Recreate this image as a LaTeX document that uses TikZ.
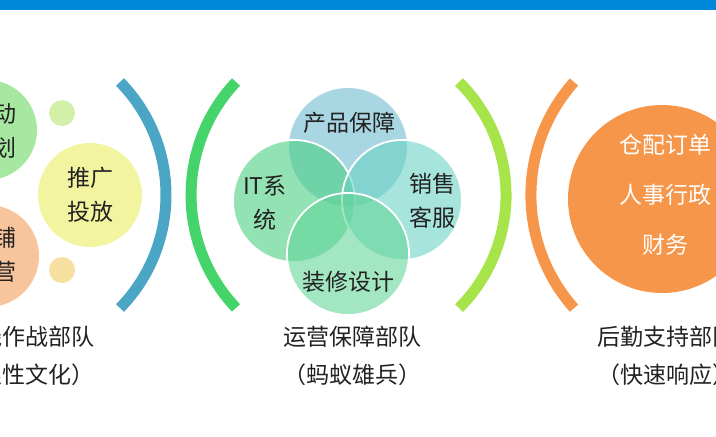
\documentclass[tikz,border=0pt]{standalone}
\usepackage{fontspec}
\newfontfamily\cjkfont{Noto Sans CJK SC}
\usetikzlibrary{positioning}
\definecolor{barblue}{RGB}{0,136,216}
\definecolor{ink}{RGB}{34,34,34}
\definecolor{arcblue}{RGB}{74,166,196}
\definecolor{arcgreen}{RGB}{69,212,106}
\definecolor{arclime}{RGB}{166,228,74}
\definecolor{arcorange}{RGB}{245,150,74}
\definecolor{actgreen}{RGB}{166,232,160}
\definecolor{pushyellow}{RGB}{242,244,160}
\definecolor{shoppeach}{RGB}{248,196,156}
\definecolor{dotgreen}{RGB}{212,240,168}
\definecolor{dotsand}{RGB}{245,224,160}
\definecolor{vtop}{RGB}{110,187,207}
\definecolor{vleft}{RGB}{75,207,130}
\definecolor{vright}{RGB}{107,210,197}
\definecolor{vbottom}{RGB}{100,213,153}
\begin{document}
\begin{tikzpicture}[x=1pt, y=-1pt,
  disc/.style={circle, inner sep=0pt, draw=none},
  venn/.style={circle, inner sep=0pt, draw=white, line width=1.8pt, fill opacity=0.6, draw opacity=1},
  bracket/.style={line width=11pt, line cap=butt},
  txt/.style={text=ink, align=center, font=\cjkfont\fontsize{23}{34}\selectfont},
  teamlbl/.style={text=ink, align=center, font=\cjkfont\fontsize{23}{38}\selectfont},
  wtxt/.style={text=white, align=center, font=\cjkfont\fontsize{23}{50}\selectfont}]
\useasboundingbox (0,0) rectangle (716,437);
\clip (0,0) rectangle (716,437);
\fill[barblue] (0,0) rectangle (716,9.5);

% front line troops
\node[disc, fill=actgreen, minimum size=100pt] (act) at (-13,130) {};
\node[disc, fill=shoppeach, minimum size=102pt] (shop) at (-12,256) {};
\node[disc, fill=pushyellow, minimum size=104pt] (push) at (90,195) {};
\node[disc, fill=dotgreen, minimum size=26pt] (dotA) at (62,113) {};
\node[disc, fill=dotsand, minimum size=26pt] (dotB) at (62,270) {};
\node[txt] (actTxt) at (-6,131) {活动\\策划};
\node[txt] (shopTxt) at (-6,255) {店铺\\运营};
\node[txt] (pushTxt) at (90,195) {推广\\投放};
\node[teamlbl] (frontLbl) at (26,356) {一线作战部队\\（狼性文化）};
\draw[bracket, arcblue] (120,82) arc[start angle=44.3, end angle=-44.3, radius=161.8pt];

% operations support
\draw[bracket, arcgreen] (236,82) arc[start angle=136.6, end angle=223.4, radius=164.4pt];
\node[venn, fill=vtop, minimum size=120pt] (prod) at (348,147) {};
\node[venn, fill=vleft, minimum size=122pt] (itsys) at (294,201) {};
\node[venn, fill=vright, minimum size=120pt] (sales) at (402,200) {};
\node[venn, fill=vbottom, minimum size=122pt] (deco) at (348,254) {};
\node[txt] (prodTxt) at (349,123) {产品保障};
\node[txt] (itsysTxt) at (265,203) {IT系\\统};
\node[txt] (salesTxt) at (432,201) {销售\\客服};
\node[txt] (decoTxt) at (348,282) {装修设计};
\node[teamlbl] (opsLbl) at (352,356) {运营保障部队\\（蚂蚁雄兵）};
\draw[bracket, arclime] (459,82) arc[start angle=45.2, end angle=-45.2, radius=159.3pt];

% logistics
\draw[bracket, arcorange] (574,82) arc[start angle=138.3, end angle=221.7, radius=170pt];
\node[disc, fill=arcorange, minimum size=188pt] (logi) at (662,199) {};
\node[wtxt] (logiTxt) at (665,195) {仓配订单\\人事行政\\财务};
\node[teamlbl] (logiLbl) at (666,356) {后勤支持部队\\（快速响应）};
\end{tikzpicture}
\end{document}
